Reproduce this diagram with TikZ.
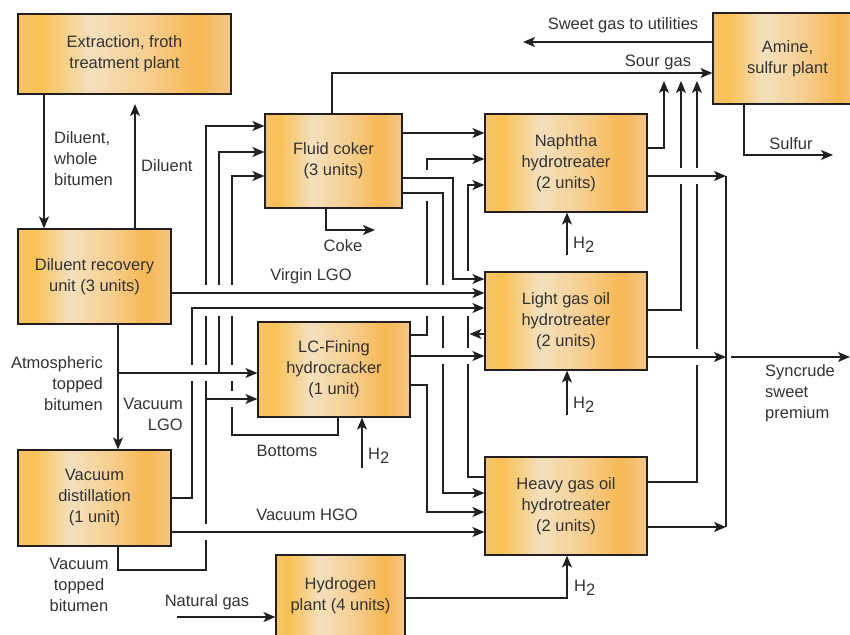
\documentclass[tikz,border=0pt]{standalone}
\usepackage{fontspec}
\setmainfont{Liberation Sans}
\usetikzlibrary{arrows.meta}
\definecolor{linec}{HTML}{231F20}
\definecolor{textc}{HTML}{333333}
\definecolor{orA}{HTML}{F5C36C}
\definecolor{orB}{HTML}{F9C152}
\definecolor{orC}{HTML}{F4E0BE}
\definecolor{orD}{HTML}{F6CF91}
\definecolor{orE}{HTML}{F7B753}
\definecolor{orF}{HTML}{F4C788}
\pgfdeclarehorizontalshading{plantshade}{100bp}{color(0bp)=(orA); color(25bp)=(orA); color(30bp)=(orB); color(42bp)=(orC); color(55bp)=(orD); color(67bp)=(orE); color(75bp)=(orF); color(100bp)=(orF)}
\newcommand{\Htwo}{H\raisebox{-0.45ex}{2}}
\tikzset{
  plant/.style={draw=linec, line width=1.2pt, shading=plantshade, text=textc,
    align=center, inner sep=0pt, font=\fontsize{16.5}{21}\selectfont},
  lbl/.style={text=textc, inner sep=0pt, font=\fontsize{16.5}{21}\selectfont},
  flow/.style={draw=linec, line width=1.4pt},
  feed/.style={flow, -{Stealth[length=12pt,width=10pt,inset=3pt]}},
}
\begin{document}
\begin{tikzpicture}[x=1pt,y=-1pt]
\clip (0,0) rectangle (850,634);
% units
\node[plant, minimum width=213, minimum height=80] (extract) at (124.5,54) {Extraction, froth\\treatment plant};
\node[plant, minimum width=153, minimum height=95] (dru) at (94.5,276.5) {Diluent recovery\\unit (3 units)};
\node[plant, minimum width=153, minimum height=96] (vacd) at (94.5,498) {Vacuum\\distillation\\(1 unit)};
\node[plant, minimum width=137, minimum height=94] (coker) at (333.5,161) {Fluid coker\\(3 units)};
\node[plant, minimum width=152, minimum height=95] (lcf) at (334,369.5) {LC-Fining\\hydrocracker\\(1 unit)};
\node[plant, minimum width=162, minimum height=98] (naph) at (566,163) {Naphtha\\hydrotreater\\(2 units)};
\node[plant, minimum width=162, minimum height=98] (lgo) at (566,321) {Light gas oil\\hydrotreater\\(2 units)};
\node[plant, minimum width=162, minimum height=98] (hgo) at (566,506) {Heavy gas oil\\hydrotreater\\(2 units)};
\node[plant, minimum width=129, minimum height=82] (h2p) at (340.5,596) {Hydrogen\\plant (4 units)};
\node[plant, minimum width=149, minimum height=91] (amine) at (787.5,58.5) {Amine,\\sulfur plant};

% free ends and junctions
\coordinate (dilret) at (135,104);
\coordinate (sweet) at (523,42);
\coordinate (sg1) at (664,81);
\coordinate (sg2) at (681,81);
\coordinate (sg3) at (697,81);
\coordinate (sulfur) at (833,155);
\coordinate (coke) at (375,230);
\coordinate (collect) at (726,0);
\coordinate (synout) at (731,357);
\coordinate (syn) at (850,357);
\coordinate (h2a) at (567,255);
\coordinate (h2b) at (567,415);
\coordinate (h2c) at (362,468);
\coordinate (natgas) at (177,617);
\coordinate (atm) at (118,373);
\coordinate (atmup) at (219,373);
\coordinate (vtb) at (206,399);
\coordinate (lgonaph) at (469.5,334);

% bitumen and diluent
\draw[feed] (extract.south -| 44,0) -- (dru.north -| 44,0);
\draw[feed] (dru.north -| dilret) -- (dilret);
\draw[feed] (dru.east |- 0,293) -- (lgo.west |- 0,293);
\draw[feed] (dru.south -| atm) -- (vacd.north -| atm);
\draw[feed] (atm) -- (lcf.west |- atm);
\draw[feed] (atmup) |- (coker.west |- 0,152);

% vacuum distillation
\draw[feed] (vacd.east |- 0,498) -| (192,308) -- (lgo.west |- 0,308);
\draw[feed] (vacd.east |- 0,532) -- (hgo.west |- 0,532);
\draw[feed] (vacd.south -| atm) |- (206,570) |- (coker.west |- 0,126);
\draw[feed] (vtb) -- (lcf.west |- vtb);
\draw[feed] (lcf.south -| 338,0) |- (232,435) |- (coker.west |- 0,176);

% coker
\draw[feed] (coker.north -| 332,0) |- (amine.west |- 0,73);
\draw[feed] (coker.south -| 326,0) |- (coke);
\draw[feed] (coker.east |- 0,133) -- (naph.west |- 0,133);
\draw[feed] (coker.east |- 0,178) -| (453,279) -- (lgo.west |- 0,279);
\draw[feed] (coker.east |- 0,193) -| (443,493) -- (hgo.west |- 0,493);

% LC-Fining
\draw[feed] (lcf.east |- 0,335) -| (427,159) -- (naph.west |- 0,159);
\draw[feed] (lcf.east |- 0,356) -- (lgo.west |- 0,356);
\draw[feed] (lcf.east |- 0,385) -| (427,512) -- (hgo.west |- 0,512);
\draw[feed] (h2c) -- (lcf.south -| h2c);

% hydrotreaters
\draw[feed] (hgo.west |- 0,477) -| (468,185) -- (naph.west |- 0,185);
\draw[feed] (lgo.west |- lgonaph) -- (lgonaph);
\draw[feed] (h2a) -- (naph.south -| h2a);
\draw[feed] (h2b) -- (lgo.south -| h2b);
\draw[feed] (h2p.east |- 0,598) -| (hgo.south -| 567,0);
\draw[feed] (natgas) -- (h2p.west |- natgas);
\draw[feed] (naph.east |- 0,148) -| (sg1);
\draw[feed] (lgo.east |- 0,310) -| (sg2);
\draw[feed] (hgo.east |- 0,482) -| (sg3);
\draw[feed] (naph.east |- 0,176) -- (collect |- 0,176);
\draw[feed] (lgo.east |- 0,357) -- (collect |- 0,357);
\draw[feed] (hgo.east |- 0,527) -- (collect |- 0,527);
\draw[flow] (collect |- 0,176) -- (collect |- 0,527);
\draw[feed] (synout) -- (syn);

% amine
\draw[feed] (amine.west |- sweet) -- (sweet);
\draw[feed] (amine.south -| 744,0) |- (sulfur);

% line crossings
\foreach \gx/\gy in {206/293,219/293,232/293,427/293,443/293,468/293,
  206/308,219/308,232/308,427/308,443/308,468/308,468/279,427/178,427/193,
  443/356,468/356,192/373,206/373,232/373,232/399,206/532,
  681/176,697/176,697/357}
{
  \fill[white] (\gx-2.2,\gy-8) rectangle (\gx+2.2,\gy+8);
  \draw[flow] (\gx-3,\gy) -- (\gx+3,\gy);
}

% labels
\node[lbl, align=left, anchor=west] (ldil) at (54,159) {Diluent,\\whole\\bitumen};
\node[lbl, anchor=west] (lret) at (141,166) {Diluent};
\node[lbl] (lvirgin) at (311,276) {Virgin LGO};
\node[lbl, align=right, anchor=east] (latm) at (103,384) {Atmospheric\\topped\\bitumen};
\node[lbl, align=right, anchor=east] (lvlgo) at (183,414) {Vacuum\\LGO};
\node[lbl] (lbot) at (287,451) {Bottoms};
\node[lbl] (lvhgo) at (307,515) {Vacuum HGO};
\node[lbl, align=center] (lvtb) at (79,585) {Vacuum\\topped\\bitumen};
\node[lbl] (lnat) at (207,602) {Natural gas};
\node[lbl] (lcoke) at (343,246) {Coke};
\node[lbl] (lsweet) at (623,25) {Sweet gas to utilities};
\node[lbl] (lsour) at (658,62) {Sour gas};
\node[lbl] (lsulf) at (791,144) {Sulfur};
\node[lbl, align=left, anchor=west] (lsyn) at (765,393) {Syncrude\\sweet\\premium};
\node[lbl, anchor=west] (lh2a) at (573,245) {\Htwo};
\node[lbl, anchor=west] (lh2b) at (573,405) {\Htwo};
\node[lbl, anchor=west] (lh2c) at (368,456) {\Htwo};
\node[lbl, anchor=west] (lh2d) at (574,588) {\Htwo};
\end{tikzpicture}
\end{document}
